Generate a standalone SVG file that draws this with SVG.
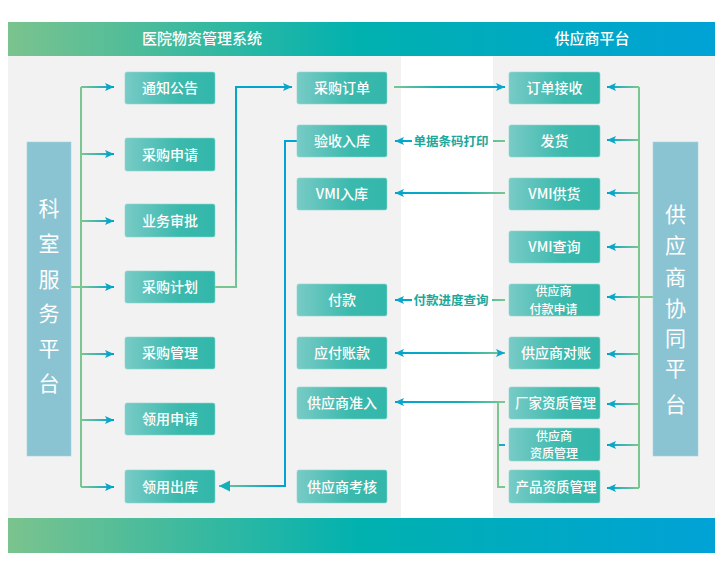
<svg xmlns="http://www.w3.org/2000/svg" width="725" height="577" viewBox="0 0 725 577">
<defs>
<linearGradient id="band" x1="0" y1="0" x2="1" y2="0">
<stop offset="0" stop-color="#7bc38e"/><stop offset="0.5" stop-color="#00b1af"/><stop offset="1" stop-color="#00a2d6"/>
</linearGradient>
<linearGradient id="node" x1="0" y1="0" x2="1" y2="0">
<stop offset="0" stop-color="#78cbc6"/><stop offset="0.6" stop-color="#3bb9ad"/><stop offset="1" stop-color="#33b7ab"/>
</linearGradient>
<linearGradient id="gL" gradientUnits="userSpaceOnUse" x1="81" y1="0" x2="114" y2="0">
<stop offset="0" stop-color="#7cc68f"/><stop offset="1" stop-color="#00a3d3"/>
</linearGradient>
<linearGradient id="gR" gradientUnits="userSpaceOnUse" x1="639" y1="0" x2="607" y2="0">
<stop offset="0" stop-color="#7cc68f"/><stop offset="1" stop-color="#00a3d3"/>
</linearGradient>
<linearGradient id="gM1" gradientUnits="userSpaceOnUse" x1="394" y1="0" x2="505" y2="0">
<stop offset="0" stop-color="#7cc68f"/><stop offset="0.4" stop-color="#12b0b5"/><stop offset="1" stop-color="#00a3d3"/>
</linearGradient>
<linearGradient id="gM2" gradientUnits="userSpaceOnUse" x1="505" y1="0" x2="395" y2="0">
<stop offset="0" stop-color="#7cc68f"/><stop offset="0.4" stop-color="#12b0b5"/><stop offset="1" stop-color="#00a3d3"/>
</linearGradient>
<linearGradient id="gP" gradientUnits="userSpaceOnUse" x1="215" y1="287" x2="292" y2="87">
<stop offset="0" stop-color="#7cc68f"/><stop offset="0.5" stop-color="#12b0b0"/><stop offset="1" stop-color="#00a3d3"/>
</linearGradient>
<linearGradient id="gV" gradientUnits="userSpaceOnUse" x1="297" y1="0" x2="219" y2="0">
<stop offset="0" stop-color="#00a3d3"/><stop offset="0.25" stop-color="#00a3d3"/><stop offset="1" stop-color="#7cc68f"/>
</linearGradient>
<marker id="ah" markerUnits="userSpaceOnUse" markerWidth="10" markerHeight="10" viewBox="0 0 10 10" refX="9" refY="5" orient="auto-start-reverse">
<path d="M0,1 L9,5 L0,9 L2,5 z" fill="#08a6c8"/>
</marker>
<marker id="ah2" markerUnits="userSpaceOnUse" markerWidth="12" markerHeight="12" viewBox="0 0 12 12" refX="11" refY="6" orient="auto">
<path d="M0,0.5 L11,6 L0,11.5 z" fill="#14b0b8"/>
</marker>
</defs>
<style>
.nd{fill:url(#node);stroke:#8fd6cf;stroke-width:0.6}
.nt{fill:#ffffff;font-family:"Noto Sans CJK SC","Noto Sans",sans-serif;font-size:14px;font-weight:500;text-anchor:middle}
.n2{fill:#ffffff;font-family:"Noto Sans CJK SC","Noto Sans",sans-serif;font-size:12px;font-weight:500;text-anchor:middle}
.tall{fill:#8ac4d3;stroke:#a5d3de;stroke-width:0.6}
.tt{fill:#ffffff;font-family:"Noto Sans CJK SC","Noto Sans",sans-serif;font-size:21px;text-anchor:middle}
.ht{fill:#ffffff;font-family:"Noto Sans CJK SC","Noto Sans",sans-serif;font-size:15px;font-weight:500;text-anchor:middle}
.lb{fill:#1ba79c;font-family:"Noto Sans CJK SC","Noto Sans",sans-serif;font-size:12.5px;font-weight:700;text-anchor:middle}
.c{fill:none;stroke-width:2}
</style>
<rect width="725" height="577" fill="#ffffff"/>
<rect x="8" y="56" width="393" height="462" fill="#f2f2f2"/>
<rect x="493" y="56" width="222" height="462" fill="#f2f2f2"/>
<rect x="8" y="22" width="707" height="34" fill="url(#band)"/>
<rect x="8" y="518" width="707" height="35" fill="url(#band)"/>
<text class="ht" x="202" y="44">医院物资管理系统</text>
<text class="ht" x="592" y="44">供应商平台</text>

<g id="connectors">
<path class="c" d="M71,287 H81 M81,87 V487" stroke="#7cc68f"/>
<line class="c" x1="81" y1="87" x2="114" y2="87" stroke="url(#gL)" marker-end="url(#ah)"/>
<line class="c" x1="81" y1="154" x2="114" y2="154" stroke="url(#gL)" marker-end="url(#ah)"/>
<line class="c" x1="81" y1="221" x2="114" y2="221" stroke="url(#gL)" marker-end="url(#ah)"/>
<line class="c" x1="81" y1="287" x2="114" y2="287" stroke="url(#gL)" marker-end="url(#ah)"/>
<line class="c" x1="81" y1="354" x2="114" y2="354" stroke="url(#gL)" marker-end="url(#ah)"/>
<line class="c" x1="81" y1="420" x2="114" y2="420" stroke="url(#gL)" marker-end="url(#ah)"/>
<line class="c" x1="81" y1="487" x2="114" y2="487" stroke="url(#gL)" marker-end="url(#ah)"/>
<path class="c" d="M215,287 H236 V87 H292" stroke="url(#gP)" marker-end="url(#ah)"/>
<path class="c" d="M297,141 H285 V486 H219" stroke="url(#gV)" marker-end="url(#ah2)"/>
<line class="c" x1="394" y1="87" x2="505" y2="87" stroke="url(#gM1)" marker-end="url(#ah)"/>
<line class="c" x1="412" y1="141" x2="395" y2="141" stroke="url(#gM2)" marker-end="url(#ah)"/>
<line class="c" x1="505" y1="141" x2="493" y2="141" stroke="url(#gM2)"/>
<text class="lb" x="451" y="145.5">单据条码打印</text>
<line class="c" x1="505" y1="193" x2="395" y2="193" stroke="url(#gM2)" marker-end="url(#ah)"/>
<line class="c" x1="412" y1="300" x2="395" y2="300" stroke="url(#gM2)" marker-end="url(#ah)"/>
<line class="c" x1="505" y1="300" x2="492" y2="300" stroke="url(#gM2)"/>
<text class="lb" x="451" y="304.5">付款进度查询</text>
<line class="c" x1="505" y1="353" x2="395" y2="353" stroke="url(#gM2)" marker-start="url(#ah)" marker-end="url(#ah)"/>
<path class="c" d="M505,402 H498 V487 H505" stroke="#7cc68f"/>
<line class="c" x1="499" y1="445" x2="505" y2="445" stroke="#1aa9c8"/>
<line class="c" x1="498" y1="402" x2="395" y2="402" stroke="url(#gM2)" marker-end="url(#ah)"/>
<path class="c" d="M639,87 V488" stroke="#7cc68f"/>
<line class="c" x1="639" y1="87" x2="607" y2="87" stroke="url(#gR)" marker-end="url(#ah)"/>
<line class="c" x1="639" y1="140" x2="607" y2="140" stroke="url(#gR)" marker-end="url(#ah)"/>
<line class="c" x1="639" y1="193" x2="607" y2="193" stroke="url(#gR)" marker-end="url(#ah)"/>
<line class="c" x1="639" y1="247" x2="607" y2="247" stroke="url(#gR)" marker-end="url(#ah)"/>
<line class="c" x1="653" y1="297" x2="607" y2="297" stroke="url(#gR)" marker-end="url(#ah)"/>
<line class="c" x1="639" y1="354" x2="607" y2="354" stroke="url(#gR)" marker-end="url(#ah)"/>
<line class="c" x1="639" y1="404" x2="607" y2="404" stroke="url(#gR)" marker-end="url(#ah)"/>
<line class="c" x1="639" y1="445" x2="607" y2="445" stroke="url(#gR)" marker-end="url(#ah)"/>
<line class="c" x1="639" y1="488" x2="607" y2="488" stroke="url(#gR)" marker-end="url(#ah)"/>
</g>

<g id="keshi"><rect class="tall" x="27" y="142" width="44" height="314"/>
<text class="tt" x="49" y="216">科</text><text class="tt" x="49" y="251">室</text><text class="tt" x="49" y="287">服</text><text class="tt" x="49" y="321">务</text><text class="tt" x="49" y="356">平</text><text class="tt" x="49" y="391">台</text></g>
<g id="gongying"><rect class="tall" x="653" y="142" width="45" height="314"/>
<text class="tt" x="675.5" y="222">供</text><text class="tt" x="675.5" y="253">应</text><text class="tt" x="675.5" y="285">商</text><text class="tt" x="675.5" y="316">协</text><text class="tt" x="675.5" y="346">同</text><text class="tt" x="675.5" y="376">平</text><text class="tt" x="675.5" y="412">台</text></g>

<g id="n1"><rect class="nd" x="125" y="72" width="90" height="32" rx="2"/><text class="nt" x="170" y="93">通知公告</text></g>
<g id="n2"><rect class="nd" x="125" y="138" width="90" height="33" rx="2"/><text class="nt" x="170" y="159.5">采购申请</text></g>
<g id="n3"><rect class="nd" x="125" y="204" width="90" height="33" rx="2"/><text class="nt" x="170" y="225.5">业务审批</text></g>
<g id="n4"><rect class="nd" x="125" y="271" width="90" height="32" rx="2"/><text class="nt" x="170" y="292">采购计划</text></g>
<g id="n5"><rect class="nd" x="125" y="337" width="90" height="32" rx="2"/><text class="nt" x="170" y="358">采购管理</text></g>
<g id="n6"><rect class="nd" x="125" y="403" width="90" height="32" rx="2"/><text class="nt" x="170" y="424">领用申请</text></g>
<g id="n7"><rect class="nd" x="125" y="470" width="90" height="33" rx="2"/><text class="nt" x="170" y="491.5">领用出库</text></g>

<g id="m1"><rect class="nd" x="297" y="72" width="90" height="32" rx="2"/><text class="nt" x="342" y="93">采购订单</text></g>
<g id="m2"><rect class="nd" x="297" y="125" width="90" height="32" rx="2"/><text class="nt" x="342" y="146">验收入库</text></g>
<g id="m3"><rect class="nd" x="297" y="178" width="90" height="32" rx="2"/><text class="nt" x="342" y="199">VMI入库</text></g>
<g id="m4"><rect class="nd" x="297" y="284" width="90" height="32" rx="2"/><text class="nt" x="342" y="305">付款</text></g>
<g id="m5"><rect class="nd" x="297" y="337" width="90" height="32" rx="2"/><text class="nt" x="342" y="358">应付账款</text></g>
<g id="m6"><rect class="nd" x="297" y="387" width="90" height="32" rx="2"/><text class="nt" x="342" y="408">供应商准入</text></g>
<g id="m7"><rect class="nd" x="297" y="470" width="90" height="33" rx="2"/><text class="nt" x="342" y="491.5">供应商考核</text></g>

<g id="r1"><rect class="nd" x="509" y="72" width="91" height="32" rx="2"/><text class="nt" x="554.5" y="93">订单接收</text></g>
<g id="r2"><rect class="nd" x="509" y="125" width="91" height="32" rx="2"/><text class="nt" x="554.5" y="146">发货</text></g>
<g id="r3"><rect class="nd" x="509" y="178" width="91" height="32" rx="2"/><text class="nt" x="554.5" y="199">VMI供货</text></g>
<g id="r4"><rect class="nd" x="509" y="231" width="91" height="32" rx="2"/><text class="nt" x="554.5" y="252">VMI查询</text></g>
<g id="r5"><rect class="nd" x="509" y="284" width="91" height="32" rx="2"/><text class="n2"><tspan x="553.5" y="296">供应商</tspan><tspan x="553.5" y="313.5">付款申请</tspan></text></g>
<g id="r6"><rect class="nd" x="509" y="337" width="91" height="32" rx="2"/><text class="nt" x="556" y="358">供应商对账</text></g>
<g id="r7"><rect class="nd" x="509" y="387" width="91" height="32" rx="2"/><text class="nt" x="555.5" y="408" style="font-size:13.5px">厂家资质管理</text></g>
<g id="r8"><rect class="nd" x="509" y="428" width="91" height="33" rx="2"/><text class="n2"><tspan x="554" y="440.5">供应商</tspan><tspan x="554" y="458">资质管理</tspan></text></g>
<g id="r9"><rect class="nd" x="509" y="470" width="91" height="33" rx="2"/><text class="nt" x="556" y="491.5" style="font-size:13.5px">产品资质管理</text></g>
</svg>
